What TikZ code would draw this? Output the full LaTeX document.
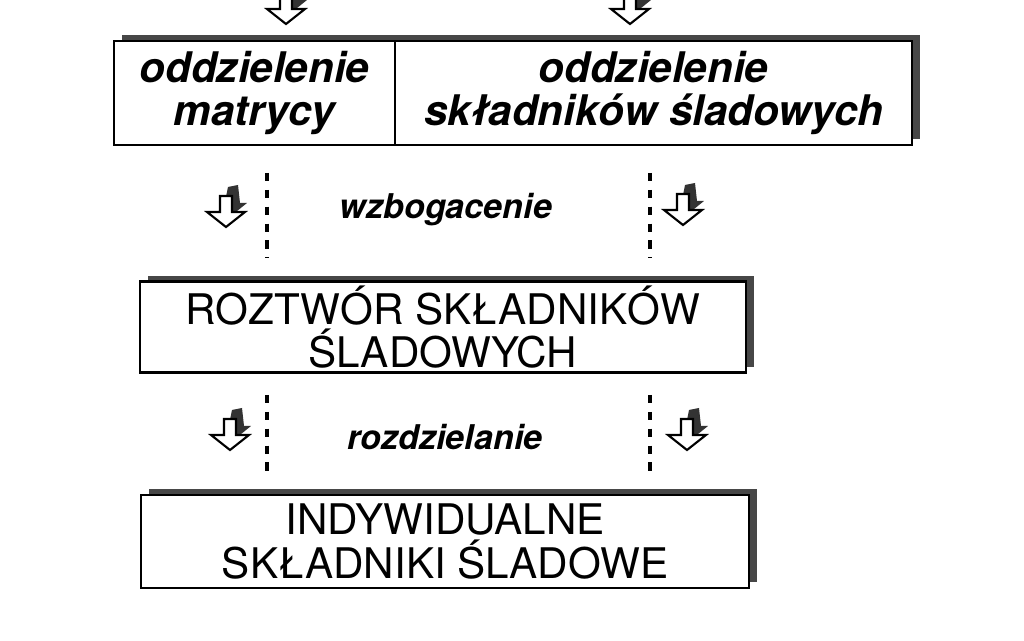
\documentclass[tikz,border=0pt]{standalone}
\usepackage{fontspec}
\setmainfont{TeX Gyre Heros}
\usetikzlibrary{positioning,shadows}

\begin{document}
\begin{tikzpicture}[
  box/.style={draw,line width=0.8pt,fill=white,inner sep=0pt,outer sep=0pt,align=center,
    font=\fontsize{12}{12.3}\selectfont,
    drop shadow={shadow xshift=0.08cm,shadow yshift=0.055cm,fill=black!72,opacity=1}},
  hbox/.style={box,font=\fontsize{12}{12.3}\selectfont\bfseries\itshape},
  lbl/.style={font=\fontsize{9.7}{11}\selectfont\bfseries\itshape},
  sep/.style={line width=1pt,dash pattern=on 2.4pt off 2.4pt},
  dnarrow/.pic={
    \fill[black!80] (0.0,0.07) -- (0.21,0.24) -- (0.14,0.24) -- (0.12,0.42) -- (0.02,0.40) -- (0.0,0.30) -- cycle;
    \draw[line width=0.6pt,fill=white] (-0.06,0.31) -- (-0.06,0.15) -- (-0.19,0.15) -- (0,0)
      -- (0.19,0.15) -- (0.06,0.15) -- (0.06,0.31) -- cycle;
  }]
\useasboundingbox (0,0) rectangle (10.24,6.41);

% boxes
\node[hbox,minimum width=2.81cm,minimum height=1.04cm] (matrix) at (2.545,5.48) {oddzielenie\\matrycy};
\node[hbox,minimum width=5.17cm,minimum height=1.04cm,right=0pt of matrix] (trace) {oddzielenie\\składników śladowych};
\node[box,minimum width=6.06cm,minimum height=0.91cm] (solution) at (4.43,3.14) {ROZTWÓR SKŁADNIKÓW\\ŚLADOWYCH};
\node[box,minimum width=6.08cm,minimum height=0.93cm] (single) at (4.45,0.995) {INDYWIDUALNE\\SKŁADNIKI ŚLADOWE};

% arrows
\pic at (2.86,6.17) {dnarrow};
\pic at (6.30,6.17) {dnarrow};
\pic at (2.26,4.14) {dnarrow};
\pic at (6.83,4.16) {dnarrow};
\pic at (2.30,1.91) {dnarrow};
\pic at (6.87,1.91) {dnarrow};

% dotted separators
\draw[sep] (2.67,4.68) -- (2.67,3.83);
\draw[sep] (6.50,4.68) -- (6.50,3.83);
\draw[sep] (2.67,2.46) -- (2.67,1.64);
\draw[sep] (6.50,2.46) -- (6.50,1.64);

\node[lbl] (enrich) at (4.46,4.31) {wzbogacenie};
\node[lbl] (separate) at (4.45,2.04) {rozdzielanie};

\end{tikzpicture}
\end{document}
